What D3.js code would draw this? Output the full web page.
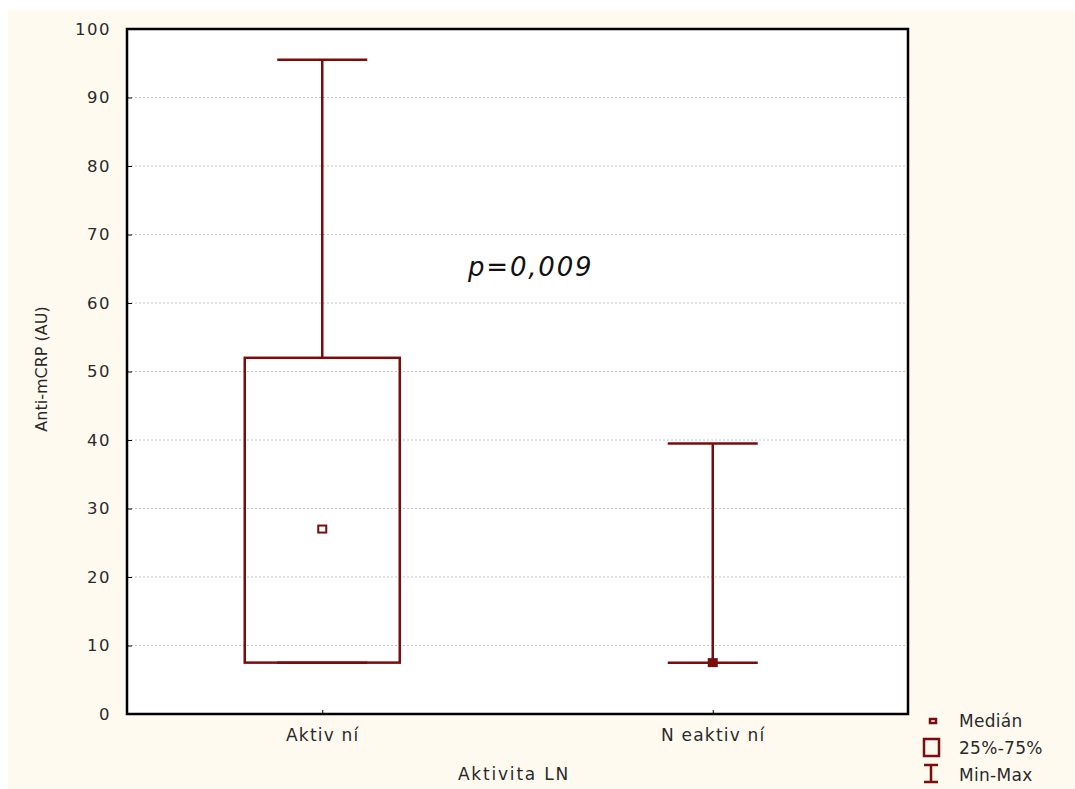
<!DOCTYPE html>
<html>
<head>
<meta charset="utf-8">
<script src="https://cdn.jsdelivr.net/npm/d3@7"></script>
<style>
  body { margin: 0; background: #fff; }
  svg { display: block; font-family: "DejaVu Sans", Verdana, sans-serif; }
</style>
</head>
<body>
<div id="chart"></div>
<script>
// data
var groups = ["Aktivní", "Neaktivní"];
var groupLabels = ["Aktiv ní", "N eaktiv ní"];
var mins = [7.5, 7.5];
var q1s = [7.5, 7.5];
var medians = [27, 7.5];
var q3s = [52, 7.5];
var maxs = [95.5, 39.5];
var yTicks = [0, 10, 20, 30, 40, 50, 60, 70, 80, 90, 100];
var legendItems = ["Medián", "25%-75%", "Min-Max"];

var W = 1075, H = 789;
var margin = {left: 127, top: 29, right: 167, bottom: 75};
var w = W - margin.left - margin.right;
var h = H - margin.top - margin.bottom;
var dark = "#7a0c0c";
var txt = "#2a2a2a";

var svg = d3.select("#chart").append("svg").attr("width", W).attr("height", H);
svg.append("rect").attr("x", 8).attr("y", 10).attr("width", W - 8).attr("height", H - 10).attr("fill", "#fefaf0");

var g = svg.append("g").attr("transform", "translate(" + margin.left + "," + margin.top + ")");

var xScale = d3.scalePoint().domain(groups).range([0, w]).padding(0.5);
var yScale = d3.scaleLinear().domain([0, 100]).range([h, 0]);

g.append("rect").attr("width", w).attr("height", h).attr("fill", "#fff");

// grid
g.append("g").selectAll("line").data(yTicks.slice(1, -1)).enter().append("line")
  .attr("x1", 0).attr("x2", w)
  .attr("y1", function(d){ return yScale(d); }).attr("y2", function(d){ return yScale(d); })
  .attr("stroke", "#c4c4c4").attr("stroke-width", 1).attr("stroke-dasharray", "2,2");

// axes
var yAxis = d3.axisLeft(yScale).tickValues(yTicks).tickSize(-5).tickPadding(16);
var yg = g.append("g").call(yAxis);
yg.select(".domain").remove();
yg.selectAll("line").attr("stroke", "#000");
yg.selectAll("text").attr("font-size", "16.5px").attr("letter-spacing", "1.5px").attr("fill", txt)
  .attr("font-family", "DejaVu Sans");

var xAxis = d3.axisBottom(xScale).tickSize(-4).tickPadding(15).tickFormat(function(d, i){ return groupLabels[i]; });
var xg = g.append("g").attr("transform", "translate(0," + h + ")").call(xAxis);
xg.select(".domain").remove();
xg.selectAll("line").attr("stroke", "#000");
xg.selectAll("text").attr("font-size", "17px").attr("letter-spacing", "1.2px").attr("fill", txt)
  .attr("font-family", "DejaVu Sans");

g.append("rect").attr("width", w).attr("height", h).attr("fill", "none").attr("stroke", "#000").attr("stroke-width", 2.5);

var boxW = 155, capW = 90;
var idx = d3.range(groups.length);

// whiskers
var wg = g.append("g").attr("stroke", dark).attr("stroke-width", 2.5);
wg.selectAll(".stem").data(idx).enter().append("line")
  .attr("x1", function(i){ return xScale(groups[i]); }).attr("x2", function(i){ return xScale(groups[i]); })
  .attr("y1", function(i){ return yScale(maxs[i]); }).attr("y2", function(i){ return yScale(q3s[i]); });
wg.selectAll(".stem2").data(idx).enter().append("line")
  .attr("x1", function(i){ return xScale(groups[i]); }).attr("x2", function(i){ return xScale(groups[i]); })
  .attr("y1", function(i){ return yScale(q1s[i]); }).attr("y2", function(i){ return yScale(mins[i]); });
wg.selectAll(".capT").data(idx).enter().append("line")
  .attr("x1", function(i){ return xScale(groups[i]) - capW / 2; }).attr("x2", function(i){ return xScale(groups[i]) + capW / 2; })
  .attr("y1", function(i){ return yScale(maxs[i]); }).attr("y2", function(i){ return yScale(maxs[i]); });
wg.selectAll(".capB").data(idx).enter().append("line")
  .attr("x1", function(i){ return xScale(groups[i]) - capW / 2; }).attr("x2", function(i){ return xScale(groups[i]) + capW / 2; })
  .attr("y1", function(i){ return yScale(mins[i]); }).attr("y2", function(i){ return yScale(mins[i]); });

// boxes
g.selectAll(".box").data(idx).enter().append("rect")
  .attr("x", function(i){ return xScale(groups[i]) - boxW / 2; })
  .attr("y", function(i){ return yScale(q3s[i]); })
  .attr("width", boxW)
  .attr("height", function(i){ return yScale(q1s[i]) - yScale(q3s[i]); })
  .attr("fill", "none").attr("stroke", dark).attr("stroke-width", 2.5);

// medians
g.selectAll(".med").data(idx).enter().append("rect")
  .attr("x", function(i){ return xScale(groups[i]) - 4; })
  .attr("y", function(i){ return yScale(medians[i]) - 3.5; })
  .attr("width", 8).attr("height", 7)
  .attr("fill", function(i){ return q1s[i] === q3s[i] ? dark : "#fff"; })
  .attr("stroke", dark).attr("stroke-width", 2);

// p value
svg.append("text").attr("x", 468).attr("y", 276)
  .attr("font-size", "26px").attr("font-style", "italic").attr("letter-spacing", "1.8px")
  .attr("fill", "#111").text("p=0,009");

// axis titles
svg.append("text").attr("transform", "translate(47,369) rotate(-90)")
  .attr("text-anchor", "middle").attr("font-size", "16px").attr("fill", txt).text("Anti-mCRP (AU)");
svg.append("text").attr("x", 514).attr("y", 780)
  .attr("text-anchor", "middle").attr("font-size", "17px").attr("letter-spacing", "1.8px").attr("fill", txt).text("Aktivita LN");

// legend
var lg = svg.append("g").attr("transform", "translate(920,710)");
lg.append("rect").attr("x", 10).attr("y", 9).attr("width", 6).attr("height", 4).attr("fill", "#fff").attr("stroke", dark).attr("stroke-width", 2.5);
lg.append("rect").attr("x", 4).attr("y", 29).attr("width", 15).attr("height", 17).attr("fill", "none").attr("stroke", dark).attr("stroke-width", 2.5);
lg.append("line").attr("x1", 11).attr("x2", 11).attr("y1", 55).attr("y2", 72).attr("stroke", dark).attr("stroke-width", 2.5);
lg.append("line").attr("x1", 4).attr("x2", 18).attr("y1", 55).attr("y2", 55).attr("stroke", dark).attr("stroke-width", 2.5);
lg.append("line").attr("x1", 4).attr("x2", 18).attr("y1", 72).attr("y2", 72).attr("stroke", dark).attr("stroke-width", 2.5);
lg.selectAll(".lt").data(legendItems).enter().append("text")
  .attr("x", 39).attr("y", function(d, i){ return 17 + i * 27; })
  .attr("font-size", "17px").attr("letter-spacing", "0.3px").attr("fill", txt).text(function(d){ return d; });
</script>
</body>
</html>
